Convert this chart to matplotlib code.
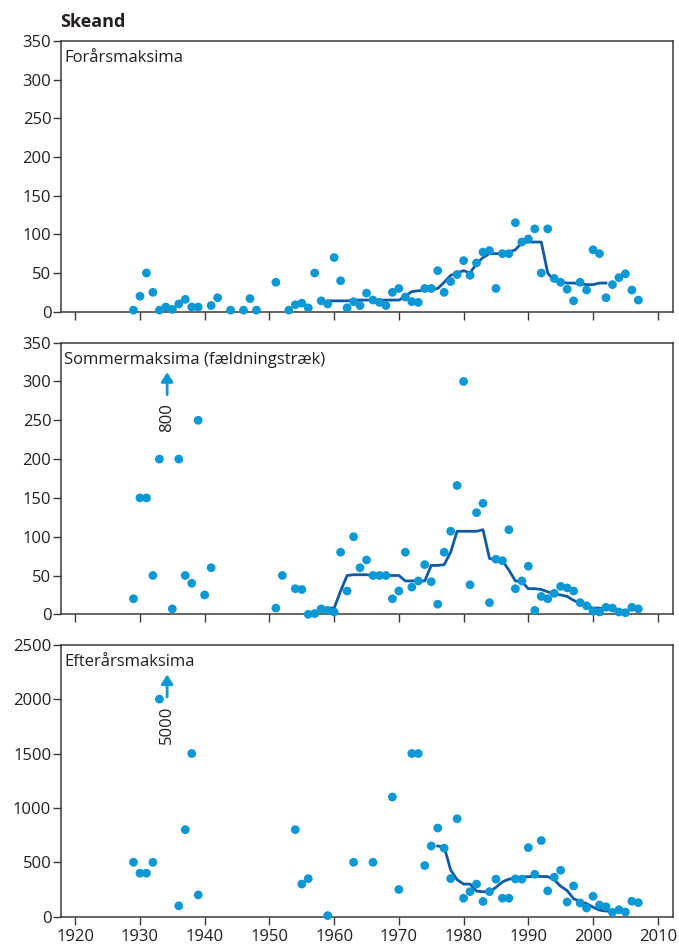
import matplotlib
matplotlib.use("Agg")
import matplotlib.pyplot as plt

plt.rcParams['font.family'] = ['Open Sans', 'DejaVu Sans']

# --- Forårsmaksima (spring maxima) ---
spring_years = [1929, 1930, 1931, 1932, 1933, 1934, 1935, 1936, 1937, 1938, 1939,
                1941, 1942, 1944, 1946, 1947, 1948, 1951, 1953, 1954, 1955, 1956,
                1957, 1958, 1959, 1960, 1961, 1962, 1963, 1964, 1965, 1966, 1967,
                1968, 1969, 1970, 1971, 1972, 1973, 1974, 1975, 1976, 1977, 1978,
                1979, 1980, 1981, 1982, 1983, 1984, 1985, 1986, 1987, 1988, 1989,
                1990, 1991, 1992, 1993, 1994, 1995, 1996, 1997, 1998, 1999, 2000,
                2001, 2002, 2003, 2004, 2005, 2006, 2007]
spring_values = [2, 20, 50, 25, 2, 6, 3, 10, 16, 6, 6,
                 8, 18, 2, 2, 17, 2, 38, 2, 9, 11, 5,
                 50, 14, 10, 70, 40, 5, 13, 8, 24, 15, 12,
                 8, 25, 30, 19, 13, 12, 30, 30, 53, 25, 39,
                 48, 66, 47, 63, 77, 79, 30, 75, 75, 115, 90,
                 94, 107, 50, 107, 43, 38, 29, 14, 38, 28, 80,
                 75, 18, 35, 44, 49, 28, 15]
spring_trend_years = list(range(1959, 2003))
spring_trend = [14, 14, 14, 14, 15, 15, 15, 15, 15, 15, 15, 15, 20, 26, 27, 28,
                29, 30, 38, 47, 50, 53, 50, 62, 70, 75, 75, 75, 77, 80, 89, 90,
                90, 90, 50, 40, 38, 37, 37, 36, 35, 35, 37, 37]

# --- Sommermaksima (fældningstræk) ---
summer_years = [1929, 1930, 1931, 1932, 1933, 1935, 1936, 1937, 1938, 1939, 1940,
                1941, 1951, 1952, 1954, 1955, 1956, 1957, 1958, 1959, 1960, 1961,
                1962, 1963, 1964, 1965, 1966, 1967, 1968, 1969, 1970, 1971, 1972,
                1973, 1974, 1975, 1976, 1977, 1978, 1979, 1980, 1981, 1982, 1983,
                1984, 1985, 1986, 1987, 1988, 1989, 1990, 1991, 1992, 1993, 1994,
                1995, 1996, 1997, 1998, 1999, 2000, 2001, 2002, 2003, 2004, 2005,
                2006, 2007]
summer_values = [20, 150, 150, 50, 200, 7, 200, 50, 40, 250, 25,
                 60, 8, 50, 33, 32, 0, 1, 7, 5, 3, 80,
                 30, 100, 60, 70, 50, 50, 50, 20, 30, 80, 35,
                 43, 64, 42, 13, 80, 107, 166, 300, 38, 131, 143,
                 15, 71, 69, 109, 33, 43, 62, 5, 23, 20, 27,
                 36, 34, 30, 15, 11, 4, 3, 9, 8, 3, 2,
                 9, 7]
summer_trend_years = list(range(1958, 2003))
summer_trend = [8, 8, 8, 30, 50, 51, 51, 51, 50, 50, 50, 50, 50, 43, 43, 43,
                43, 63, 63, 64, 80, 107, 107, 107, 107, 109, 72, 70, 69, 57,
                43, 42, 33, 33, 32, 29, 26, 25, 23, 18, 14, 11, 8, 8, 7]
summer_offscale_year = 1934
summer_offscale_value = 800

# --- Efterårsmaksima (autumn maxima) ---
autumn_years = [1929, 1930, 1931, 1932, 1933, 1936, 1937, 1938, 1939, 1954, 1955,
                1956, 1959, 1963, 1966, 1969, 1970, 1972, 1973, 1974, 1975, 1976,
                1977, 1978, 1979, 1980, 1981, 1982, 1983, 1984, 1985, 1986, 1987,
                1988, 1989, 1990, 1991, 1992, 1993, 1994, 1995, 1996, 1997, 1998,
                1999, 2000, 2001, 2002, 2003, 2004, 2005, 2006, 2007]
autumn_values = [500, 400, 400, 500, 2000, 100, 800, 1500, 200, 800, 300,
                 350, 10, 500, 500, 1100, 250, 1500, 1500, 470, 650, 815,
                 630, 350, 900, 170, 230, 300, 140, 230, 345, 170, 170,
                 347, 345, 635, 390, 700, 237, 363, 427, 135, 283, 126,
                 80, 188, 108, 92, 40, 64, 43, 142, 129]
autumn_trend_years = list(range(1976, 2004))
autumn_trend = [650, 640, 430, 340, 300, 300, 235, 230, 228, 270, 320, 345,
                355, 365, 368, 370, 370, 368, 340, 280, 240, 165, 140, 120,
                88, 60, 52, 48]
autumn_offscale_year = 1934
autumn_offscale_value = 5000

dot_color = '#0b98d4'
line_color = '#0f5aa6'
spine_color = '#3a3a3a'
text_color = '#231f20'

W, H = 679, 947
fig = plt.figure(figsize=(W / 100, H / 100), dpi=100)

left = 61 / W
width = (673.3 - 61) / W
rows = [(40.8, 311.7), (342.7, 614.3), (644.7, 916.7)]

panels = [
    ("Forårsmaksima", spring_years, spring_values, spring_trend_years, spring_trend,
     350, 50, None),
    ("Sommermaksima (fældningstræk)", summer_years, summer_values, summer_trend_years,
     summer_trend, 350, 50, (summer_offscale_year, summer_offscale_value, 283, 312, 253)),
    ("Efterårsmaksima", autumn_years, autumn_values, autumn_trend_years, autumn_trend,
     2500, 500, (autumn_offscale_year, autumn_offscale_value, 2020, 2226, 1765)),
]

for i, ((top, bottom), (label, yrs, vals, tyrs, tvals, ymax, ystep, off)) in enumerate(zip(rows, panels)):
    ax = fig.add_axes([left, 1 - bottom / H, width, (bottom - top) / H])
    ax.set_xlim(1917.8, 2012.4)
    ax.set_ylim(0, ymax)
    ax.set_xticks(range(1920, 2011, 10))
    ax.set_yticks(range(0, ymax + 1, ystep))
    ax.tick_params(direction='out', length=5.5, width=1.0, color=spine_color,
                   labelsize=12, labelcolor=text_color, pad=1.5)
    ax.tick_params(axis='x', labelbottom=(i == 2), pad=3)
    for sp in ax.spines.values():
        sp.set_color(spine_color)
        sp.set_linewidth(1.1)

    ax.plot(tyrs, tvals, color=line_color, lw=2.0, zorder=3, clip_on=False)
    ax.scatter(yrs, vals, s=40, color=dot_color, edgecolors='none', zorder=4,
               clip_on=False)

    ax.text(0.005, 0.935, label, transform=ax.transAxes, fontsize=12,
            color=text_color, ha='left', va='center')

    if off is not None:
        oyear, oval, y0, y1, ytxt = off
        ax.annotate('', xy=(oyear + 0.2, y1), xytext=(oyear + 0.2, y0),
                    arrowprops=dict(arrowstyle='-|>,head_length=0.55,head_width=0.35',
                                    color=dot_color, lw=2.0, shrinkA=0, shrinkB=0))
        ax.text(oyear + 0.2, ytxt, str(oval), rotation=90, fontsize=12,
                color=text_color, ha='center', va='center')

fig.text(60 / W, 1 - 22 / H, "Skeand", fontsize=13, fontweight='bold',
         color=text_color, ha='left', va='center')

fig.savefig('out.png', dpi=100)
